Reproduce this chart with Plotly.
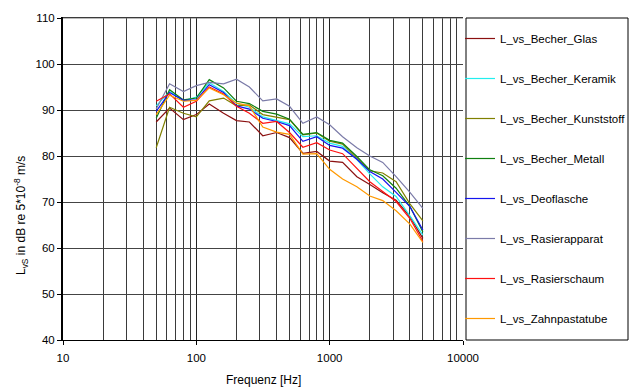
import plotly.graph_objects as go

freq = [50, 63, 80, 100, 125, 160, 200, 250, 315, 400, 500, 630, 800, 1000,
        1250, 1600, 2000, 2500, 3150, 4000, 5000]

series_names = ["L_vs_Becher_Glas", "L_vs_Becher_Keramik", "L_vs_Becher_Kunststoff",
                "L_vs_Becher_Metall", "L_vs_Deoflasche", "L_vs_Rasierapparat",
                "L_vs_Rasierschaum", "L_vs_Zahnpastatube"]

glas = [87.4, 90.4, 87.9, 89.0, 91.3, 89.3, 87.7, 87.4, 84.4, 85.1, 84.0, 80.6, 81.0, 78.9,
        78.6, 75.5, 73.8, 72.0, 70.4, 66.8, 62.1]
keramik = [90.9, 94.0, 92.0, 92.8, 95.9, 94.0, 91.4, 90.6, 88.5, 87.7, 87.0, 84.2, 84.4, 82.8,
           82.1, 79.2, 76.1, 73.3, 71.2, 67.0, 62.8]
kunststoff = [81.8, 90.6, 89.3, 88.5, 92.0, 92.6, 90.9, 91.1, 89.0, 88.4, 87.9, 84.6, 85.0, 83.2,
              82.6, 79.5, 76.8, 76.3, 74.4, 69.6, 65.9]
metall = [88.2, 94.4, 92.2, 92.6, 96.6, 94.8, 91.9, 91.4, 89.7, 89.1, 88.0, 84.7, 85.1, 83.4,
          82.8, 79.9, 77.0, 75.7, 73.0, 69.0, 63.5]
deoflasche = [89.7, 93.8, 92.1, 92.2, 95.5, 93.8, 90.9, 90.2, 88.2, 87.5, 86.6, 83.2, 84.2, 82.3,
              81.7, 79.3, 76.6, 75.0, 72.1, 69.0, 63.9]
rasierapparat = [90.2, 95.7, 94.0, 95.3, 96.0, 95.7, 96.7, 95.0, 92.0, 92.4, 90.8, 87.1, 88.5, 86.8,
                 84.2, 81.8, 80.0, 78.6, 75.5, 72.1, 68.6]
rasierschaum = [91.9, 93.5, 90.6, 91.9, 95.0, 93.5, 90.8, 89.3, 87.1, 87.5, 85.1, 81.9, 82.9, 81.3,
                80.5, 77.3, 74.4, 72.3, 70.1, 66.4, 61.4]
zahnpasta = [89.0, 93.2, 91.9, 92.1, 94.8, 93.3, 91.5, 90.9, 86.3, 85.2, 84.7, 80.4, 80.5, 77.1,
             75.0, 73.3, 71.3, 70.3, 68.1, 65.2, 61.2]

values = [glas, keramik, kunststoff, metall, deoflasche, rasierapparat, rasierschaum, zahnpasta]
colors = ["#8B1010", "#22EEEE", "#808000", "#108010", "#1515EE", "#7B7BA8", "#FF1010", "#FF9900"]

x_ticks = [10, 100, 1000, 10000]
y_ticks = [40, 50, 60, 70, 80, 90, 100, 110]

fig = go.Figure()
for i, (name, vals, col) in enumerate(zip(series_names, values, colors)):
    fig.add_trace(go.Scatter(x=freq, y=vals, mode="lines", name=name,
                             line=dict(color=col, width=1.2), legendgroup=str(i)))

L, R, T, B = 63, 166, 18, 50
W, H = 629, 390
pw = W - L - R
ph = H - T - B

fig.update_layout(
    width=W, height=H,
    margin=dict(l=L, r=R, t=T, b=B, autoexpand=False),
    paper_bgcolor="white", plot_bgcolor="white",
    font=dict(family="Liberation Sans, Arial, sans-serif", size=11.5, color="black"),
    showlegend=True,
    legend=dict(x=(460 - L) / pw, y=1 - 6 / ph, xanchor="left", yanchor="top",
                font=dict(size=11.5), bgcolor="rgba(0,0,0,0)", borderwidth=0,
                traceorder="grouped", tracegroupgap=21, itemwidth=30),
    xaxis=dict(type="log", range=[1, 4], tickvals=x_ticks, ticktext=[str(v) for v in x_ticks],
               showgrid=True, gridcolor="#222222", gridwidth=1,
               minor=dict(dtick="D1", showgrid=True, gridcolor="#3a3a3a", gridwidth=1, ticks=""),
               showline=True, linecolor="black", linewidth=1, mirror=True,
               ticks="outside", ticklen=4, tickcolor="black", zeroline=False,
               ticklabelstandoff=3),
    yaxis=dict(range=[40, 110], tickvals=y_ticks, showgrid=True, gridcolor="#444444", gridwidth=1,
               showline=True, linecolor="black", linewidth=2, mirror=False,
               ticks="outside", ticklen=4, tickcolor="black", zeroline=False),
    shapes=[dict(type="rect", xref="paper", yref="paper",
                 x0=(466 - L) / pw, x1=(628 - L) / pw, y0=0, y1=1,
                 line=dict(color="black", width=1), fillcolor="rgba(0,0,0,0)"),
            dict(type="line", xref="paper", yref="paper", x0=0, x1=1, y0=1, y1=1,
                 line=dict(color="#777777", width=1))],
    annotations=[
        dict(text="Frequenz [Hz]", xref="paper", yref="paper", x=0.5, y=(340 - 380) / ph,
             xanchor="center", yanchor="middle", showarrow=False, font=dict(size=12)),
        dict(text="L<sub>vS</sub> in dB re 5*10<sup>-8</sup> m/s", xref="paper", yref="paper",
             x=(21 - L) / pw, y=(340 - 216) / ph, xanchor="center", yanchor="middle",
             textangle=-90, showarrow=False, font=dict(size=12)),
    ],
)

fig.write_html("out.html", config={"displayModeBar": False},
               post_script="document.body.style.margin='0px';document.body.style.padding='0px';"
                           "document.documentElement.style.overflow='hidden';")
